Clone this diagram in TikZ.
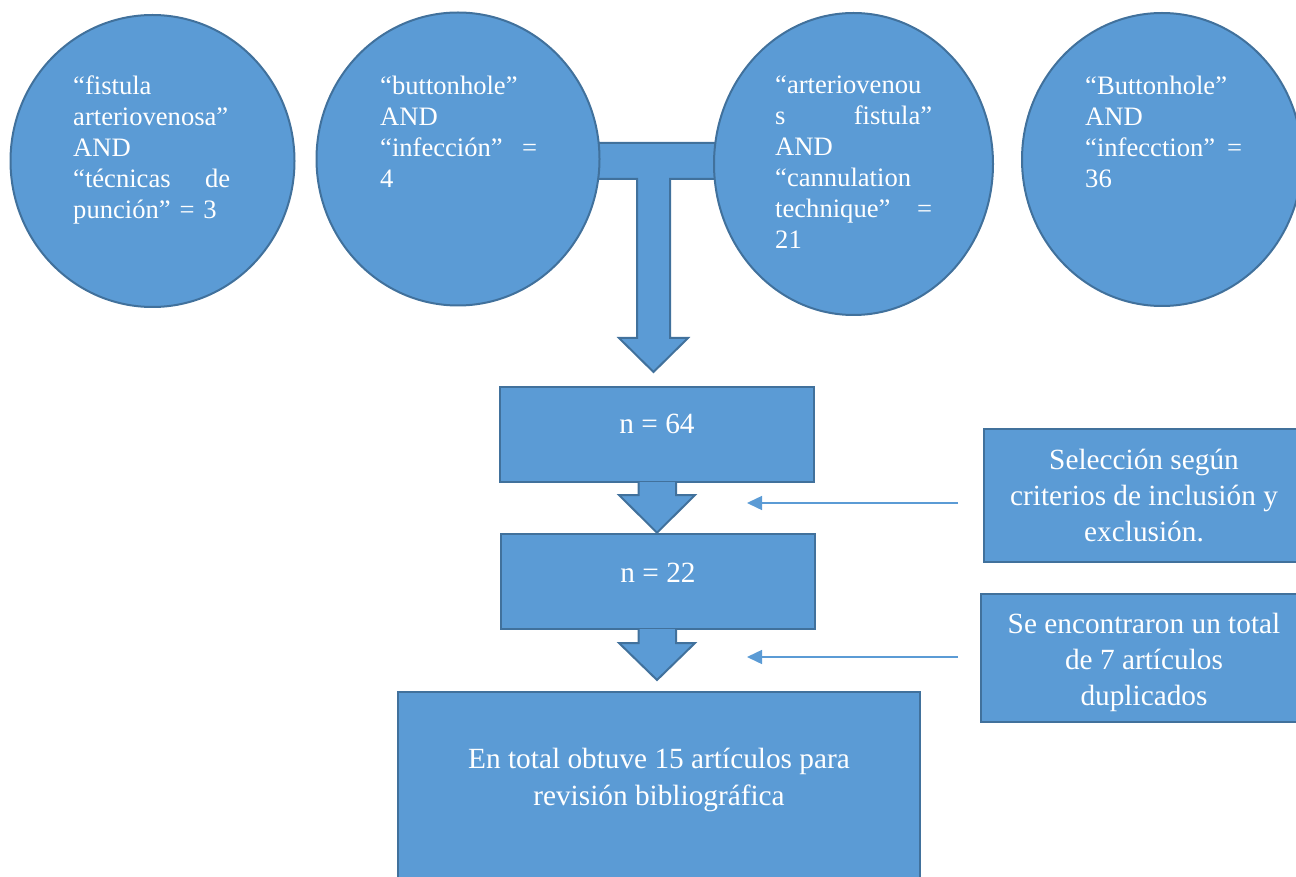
\documentclass[tikz,border=0pt]{standalone}
\usepackage{fontspec}
\setmainfont{Liberation Serif}
\usetikzlibrary{shapes.geometric,arrows.meta}
\definecolor{fillblue}{HTML}{5B9BD5}
\definecolor{edgeblue}{HTML}{41719C}
\newcommand{\jline}[2]{\leavevmode\hbox to 157pt{#1\hfill #2}}
\begin{document}
\begin{tikzpicture}[x=1pt,y=-1pt,
  shapefill/.style={fill=fillblue,draw=edgeblue,line width=2pt},
  bubble/.style={shapefill,ellipse,inner sep=0pt},
  bubbletext/.style={text=white,font=\fontsize{26.6}{31}\selectfont,text width=158pt,align=left,anchor=north west,inner sep=0pt},
  boxshape/.style={shapefill,rectangle,inner sep=0pt},
  boxtext/.style={text=white,font=\fontsize{29.3}{36}\selectfont,align=center,inner sep=0pt},
  thinarrow/.style={draw=fillblue,line width=1.5pt,-{Triangle[length=15pt,width=14pt]}}]
\clip (0,0) rectangle (1296,877);

% T-shaped block arrow joining the searches
\draw[shapefill] (590,143) -- (722,143) -- (722,179) -- (670,179) -- (670,338) -- (688,338) -- (653.5,372) -- (619,338) -- (637,338) -- (637,179) -- (590,179) -- cycle;

% search bubbles
\node[bubble,minimum width=284pt,minimum height=292pt] (c1) at (152.5,161) {};
\node[bubble,minimum width=283pt,minimum height=293pt] (c2) at (458,159) {};
\node[bubble,minimum width=279pt,minimum height=302pt] (c3) at (853.5,164) {};
\node[bubble,minimum width=280pt,minimum height=293pt] (c4) at (1162,159.5) {};

\node[bubbletext] (t1) at (73,76) {“fistula\\arteriovenosa”\\AND\\\jline{“técnicas}{de}\\punción” = 3};
\node[bubbletext] (t2) at (380,76) {“buttonhole”\\AND\\\jline{“infección”}{=}\\4};
\node[bubbletext] (t3) at (775,76) {“arteriovenou\\\jline{s}{fistula”}\\AND\\“cannulation\\\jline{technique”}{=}\\21};
\node[bubbletext] (t4) at (1085,76) {“Buttonhole”\\AND\\\jline{“infecction”}{=}\\36};

% result boxes
\node[boxshape,minimum width=314pt,minimum height=95pt] (b64) at (657,434.5) {};
\node[boxtext] (l64) at (657,423.5) {n = 64};
\node[boxshape,minimum width=314pt,minimum height=95pt] (b22) at (658,581.5) {};
\node[boxtext] (l22) at (658,572.5) {n = 22};
\node[boxshape,minimum width=522pt,minimum height=220pt] (bfin) at (659,802) {};
\node[boxtext,font=\fontsize{29.3}{37}\selectfont,anchor=north] (lfin) at (659,748) {En total obtuve 15 artículos para\\revisión bibliográfica};

% side boxes
\node[boxshape,minimum width=320pt,minimum height=133pt] (sel) at (1144,495.5) {};
\node[boxtext,anchor=north] (lsel) at (1144,448.5) {Selección según\\criterios de inclusión y\\exclusión.};
\node[boxshape,minimum width=326pt,minimum height=128pt] (dup) at (1144,658) {};
\node[boxtext,anchor=north] (ldup) at (1144,612.5) {Se encontraron un total\\de 7 artículos\\duplicados};

% block arrows between boxes
\fill[fillblue] (638.5,482) -- (638.5,495) -- (619,495) -- (657,532.7) -- (695,495) -- (676,495) -- (676,482) -- cycle;
\draw[edgeblue,line width=2pt] (638.5,482) -- (638.5,495) -- (619,495) -- (657,532.7) -- (695,495) -- (676,495) -- (676,482);
\fill[fillblue] (638.5,629) -- (638.5,643) -- (619,643) -- (657,680) -- (695,643) -- (676,643) -- (676,629) -- cycle;
\draw[edgeblue,line width=2pt] (638.5,629) -- (638.5,643) -- (619,643) -- (657,680) -- (695,643) -- (676,643) -- (676,629);

% thin arrows
\coordinate (s1) at (958,503);
\coordinate (e1) at (747,503);
\coordinate (s2) at (958,657);
\coordinate (e2) at (747,657);
\draw[thinarrow] (s1) -- (e1);
\draw[thinarrow] (s2) -- (e2);
\end{tikzpicture}
\end{document}
